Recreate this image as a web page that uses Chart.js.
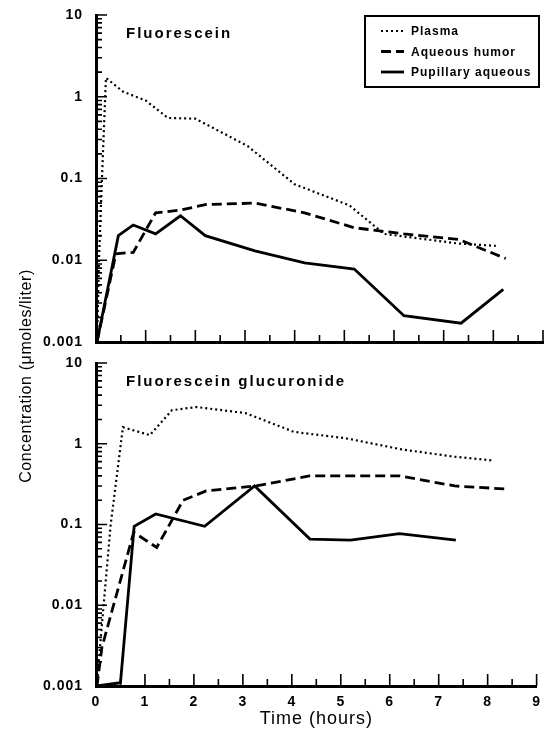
<!DOCTYPE html>
<html><head><meta charset="utf-8">
<script src="https://cdn.jsdelivr.net/npm/chart.js@4/dist/chart.umd.min.js"></script>
<style>
html,body{margin:0;padding:0;background:#fff;}
#wrap{position:relative;width:549px;height:738px;}
#wrap canvas{position:absolute;left:0;top:0;}
</style></head><body>
<div id="wrap"><canvas id="cTop" width="549" height="738"></canvas><canvas id="cBot" width="549" height="738"></canvas></div>
<script>
// ---- tick labels / categories ----
const xTickLabels = ['0','1','2','3','4','5','6','7','8','9'];
const yTickValues = [0.001, 0.01, 0.1, 1, 10];
const yTickLabels = ['0.001', '0.01', '0.1', '1', '10'];
const seriesNames = ['Plasma', 'Aqueous humor', 'Pupillary aqueous'];
const panelTitles = ['Fluorescein', 'Fluorescein glucuronide'];
const xTitle = 'Time (hours)';
const yTitle = 'Concentration (\u03bcmoles/liter)';

// ---- Fluorescein (top panel) ----
const fluPlasmaT  = [0.02, 0.06, 0.12, 0.2, 0.55, 1.0, 1.45, 2.0, 3.05, 4.0, 5.1, 5.8, 7.3, 8.05];
const fluPlasmaV  = [0.001, 0.01, 0.1, 1.7, 1.15, 0.9, 0.55, 0.54, 0.25, 0.085, 0.047, 0.021, 0.016, 0.015];
const fluAqueousT = [0.02, 0.4, 0.75, 1.2, 1.7, 2.2, 3.2, 4.2, 5.2, 6.2, 7.3, 8.25];
const fluAqueousV = [0.001, 0.012, 0.0125, 0.038, 0.041, 0.048, 0.05, 0.038, 0.025, 0.021, 0.018, 0.0105];
const fluPupilT   = [0.02, 0.45, 0.75, 1.2, 1.7, 2.2, 3.2, 4.2, 5.2, 6.2, 7.35, 8.2];
const fluPupilV   = [0.001, 0.02, 0.027, 0.021, 0.035, 0.02, 0.013, 0.0093, 0.0078, 0.0021, 0.0017, 0.0044];

// ---- Fluorescein glucuronide (bottom panel) ----
const gluPlasmaT  = [0.02, 0.08, 0.3, 0.55, 1.1, 1.55, 2.05, 3.05, 4.05, 5.1, 6.25, 7.33, 8.1];
const gluPlasmaV  = [0.001, 0.003, 0.1, 1.6, 1.28, 2.6, 2.85, 2.4, 1.4, 1.17, 0.85, 0.69, 0.62];
const gluAqueousT = [0.02, 0.12, 0.77, 1.24, 1.78, 2.25, 3.26, 4.36, 5.2, 6.2, 7.33, 8.38];
const gluAqueousV = [0.001, 0.003, 0.08, 0.052, 0.2, 0.26, 0.3, 0.4, 0.4, 0.4, 0.3, 0.275];
const gluPupilT   = [0.02, 0.5, 0.78, 1.22, 2.22, 3.24, 4.37, 5.2, 6.2, 7.35];
const gluPupilV   = [0.001, 0.0011, 0.095, 0.135, 0.095, 0.3, 0.066, 0.064, 0.077, 0.064];

const FONT = '"Liberation Sans", Arial, sans-serif';
const styles = [
  {borderWidth: 2.2, borderDash: [2, 3]},
  {borderWidth: 2.8, borderDash: [10, 5]},
  {borderWidth: 2.8, borderDash: []}
];

function pts(T, V) { return T.map((t, i) => ({x: t, y: V[i]})); }
function makeSets(list) {
  return list.map((p, i) => Object.assign({
    label: seriesNames[i], data: pts(p[0], p[1]),
    borderColor: '#000', backgroundColor: '#000', pointRadius: 0,
    fill: false, tension: 0, clip: 4, borderCapStyle: 'butt', borderJoinStyle: 'miter'
  }, styles[i]));
}

const deco = {
  id: 'deco',
  beforeLayout(chart) { chart.ctx.letterSpacing = '1px'; },
  beforeDraw(chart) { chart.ctx.letterSpacing = '1px'; },
  afterDatasetsDraw(chart, args, opts) {
    const ctx = chart.ctx, xs = chart.scales.x, ys = chart.scales.y, ca = chart.chartArea;
    ctx.save();
    ctx.strokeStyle = '#000'; ctx.lineWidth = 1.6; ctx.setLineDash([]);
    ctx.beginPath();
    for (let k = 1; k <= 18; k++) {
      const px = xs.getPixelForValue(k / 2);
      const len = k % 2 === 0 ? 12 : 7;
      ctx.moveTo(px, ca.bottom); ctx.lineTo(px, ca.bottom - len);
    }
    for (let e = -3; e <= 1; e++) {
      for (let m = 1; m <= 9; m++) {
        const v = m * Math.pow(10, e);
        if (v > 10.0001) break;
        const py = ys.getPixelForValue(v);
        const len = m === 1 ? 11 : 6;
        ctx.moveTo(ca.left, py); ctx.lineTo(ca.left + len, py);
      }
    }
    ctx.stroke();
    // panel title
    ctx.fillStyle = '#000';
    ctx.font = 'bold 15px ' + FONT;
    ctx.letterSpacing = '2px';
    ctx.textAlign = 'left'; ctx.textBaseline = 'alphabetic';
    ctx.fillText(opts.title, ca.left + 30, ca.top + 23);
    // legend
    if (opts.legend) {
      const bw = 174, bh = 71;
      const bx = ca.right - bw - 4, by = ca.top + 1;
      ctx.lineWidth = 2;
      ctx.strokeRect(bx, by, bw, bh);
      ctx.font = 'bold 12px ' + FONT;
      ctx.letterSpacing = '1px';
      ctx.textBaseline = 'middle';
      chart.data.datasets.forEach((ds, i) => {
        const cy = by + 15 + i * 20.5;
        ctx.beginPath();
        ctx.lineWidth = ds.borderWidth;
        ctx.setLineDash(ds.borderDash);
        ctx.moveTo(bx + 16, cy); ctx.lineTo(bx + 39, cy);
        ctx.stroke();
        ctx.setLineDash([]);
        ctx.fillText(ds.label, bx + 46, cy + 1);
      });
    }
    // shared y-axis title
    if (opts.yTitle) {
      ctx.translate(27, 376);
      ctx.rotate(-Math.PI / 2);
      ctx.font = '16px ' + FONT;
      ctx.letterSpacing = '0.6px';
      ctx.textAlign = 'center'; ctx.textBaseline = 'middle';
      ctx.fillText(opts.yTitle, 0, 0);
    }
    ctx.restore();
  }
};

function yScale() {
  return {
    type: 'logarithmic', min: 0.001, max: 10,
    afterFit: s => { s.width = 96; s.paddingTop = 8; s.paddingBottom = 8; },
    afterBuildTicks: s => { s.ticks = yTickValues.map(v => ({value: v})); },
    grid: {display: false, drawTicks: false},
    border: {display: true, color: '#000', width: 3},
    ticks: {
      color: '#000', padding: 13, font: {family: FONT, size: 14, weight: 'bold'},
      callback: (v, i) => yTickLabels[i]
    }
  };
}

function makeChart(id, sets, isBottom) {
  return new Chart(document.getElementById(id), {
    type: 'line',
    data: {datasets: makeSets(sets)},
    options: {
      responsive: false, animation: false, devicePixelRatio: 1, events: [],
      layout: {padding: isBottom ? {top: 363, right: 6, bottom: 0, left: 0}
                                 : {top: 15, right: 6, bottom: 396, left: 0}},
      plugins: {
        legend: {display: false}, tooltip: {enabled: false},
        deco: {title: isBottom ? panelTitles[1] : panelTitles[0], legend: !isBottom,
               yTitle: isBottom ? yTitle : null}
      },
      scales: {
        x: {
          type: 'linear', min: 0, max: 9,
          afterFit: s => { s.height = isBottom ? 52 : 0; },
          grid: {display: false, drawTicks: false},
          border: {display: true, color: '#000', width: 3},
          ticks: {
            display: isBottom, stepSize: 1, padding: 8, maxRotation: 0, autoSkip: false,
            color: '#000', font: {family: FONT, size: 14, weight: 'bold'},
            callback: (v) => xTickLabels[Math.round(v)]
          },
          title: {
            display: isBottom, text: xTitle, color: '#000',
            font: {family: FONT, size: 18}, padding: {top: 0, bottom: 8}
          }
        },
        y: yScale()
      }
    },
    plugins: [deco]
  });
}

makeChart('cTop', [[fluPlasmaT, fluPlasmaV], [fluAqueousT, fluAqueousV], [fluPupilT, fluPupilV]], false);
makeChart('cBot', [[gluPlasmaT, gluPlasmaV], [gluAqueousT, gluAqueousV], [gluPupilT, gluPupilV]], true);
</script>
</body></html>
